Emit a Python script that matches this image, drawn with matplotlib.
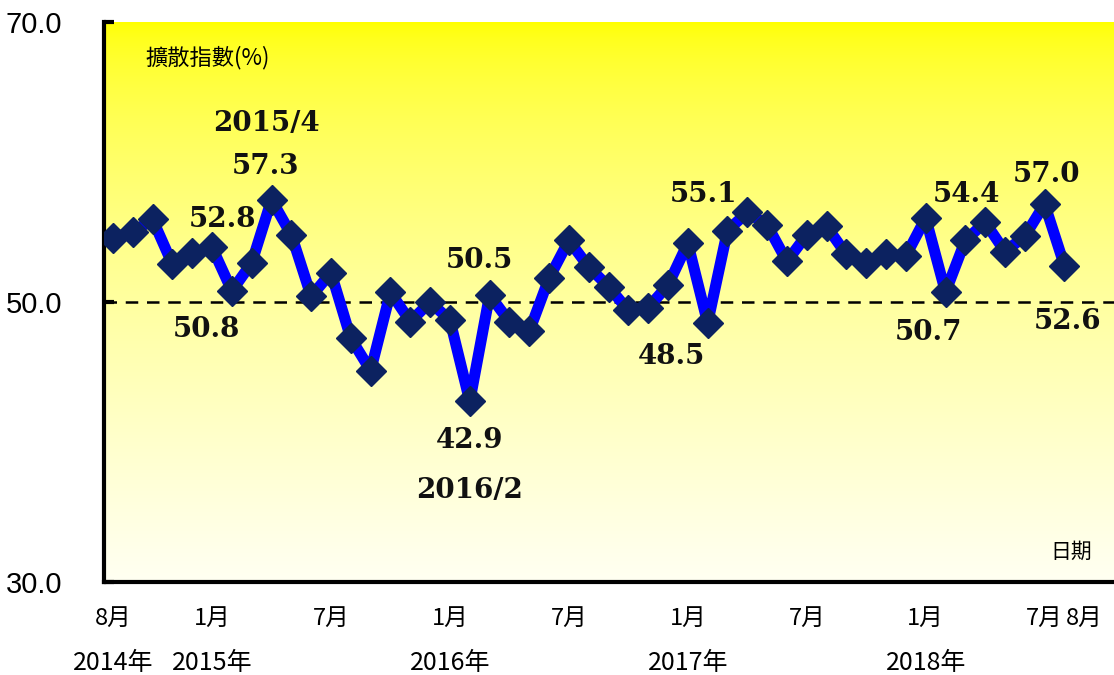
import numpy as np
import matplotlib.pyplot as plt
import matplotlib.transforms as mtransforms

plt.rcParams['font.family'] = ['Noto Sans CJK TC', 'DejaVu Sans']

# Monthly diffusion index, 2014/8 - 2018/8
months = ['2014/8', '2014/9', '2014/10', '2014/11', '2014/12',
          '2015/1', '2015/2', '2015/3', '2015/4', '2015/5', '2015/6',
          '2015/7', '2015/8', '2015/9', '2015/10', '2015/11', '2015/12',
          '2016/1', '2016/2', '2016/3', '2016/4', '2016/5', '2016/6',
          '2016/7', '2016/8', '2016/9', '2016/10', '2016/11', '2016/12',
          '2017/1', '2017/2', '2017/3', '2017/4', '2017/5', '2017/6',
          '2017/7', '2017/8', '2017/9', '2017/10', '2017/11', '2017/12',
          '2018/1', '2018/2', '2018/3', '2018/4', '2018/5', '2018/6',
          '2018/7', '2018/8']
values = [54.6, 55.0, 55.9, 52.7, 53.5,
          53.9, 50.8, 52.8, 57.3, 54.8, 50.4,
          52.1, 47.4, 45.1, 50.7, 48.6, 50.0,
          48.7, 42.9, 50.5, 48.6, 47.9, 51.7,
          54.4, 52.5, 51.1, 49.4, 49.6, 51.2,
          54.2, 48.5, 55.1, 56.4, 55.5, 52.9,
          54.8, 55.4, 53.4, 52.8, 53.4, 53.3,
          56.0, 50.7, 54.4, 55.7, 53.6, 54.7,
          57.0, 52.6]

tick_months = ['2014/8', '2015/1', '2015/7', '2016/1', '2016/7',
               '2017/1', '2017/7', '2018/1', '2018/7', '2018/8']
tick_labels = ['8月', '1月', '7月', '1月', '7月', '1月', '7月', '1月', '7月', '8月']
year_months = ['2014/8', '2015/1', '2016/1', '2017/1', '2018/1']
year_labels = ['2014年', '2015年', '2016年', '2017年', '2018年']

# labelled points and where their value text sits (offset in points)
label_months = ['2015/2', '2015/3', '2015/4', '2016/2', '2016/3',
                '2017/2', '2017/3', '2018/2', '2018/3', '2018/7', '2018/8']
label_offsets = [(-18, -28), (-21, 31), (-4, 24), (0, -28), (-7, 25),
                 (-26, -24), (-17, 26), (-12, -29), (1, 33), (1, 21), (2, -40)]

x = np.arange(len(months))
idx = {m: i for i, m in enumerate(months)}

fig = plt.figure(figsize=(11.14, 6.75), dpi=100)
ax = fig.add_axes([0.0934, 0.1378, 0.9066, 0.8296])

# yellow (top) -> cream (bottom) gradient background
t = np.linspace(0, 1, 256)
grad = np.ones((256, 1, 3))
grad[:, 0, 2] = 0.95 * t ** 0.6
ax.imshow(grad, aspect='auto', extent=[0, 1, 0, 1],
          transform=ax.transAxes, zorder=0)

ax.axhline(50, color='black', lw=1.8, ls=(0, (5, 3.5)), zorder=1)
ax.plot(x, values, color='#0000ff', lw=8, marker='D', ms=15,
        markerfacecolor='#0c2260', markeredgecolor='#0c2260', zorder=3)

for m, off in zip(label_months, label_offsets):
    i = idx[m]
    ax.annotate(f'{values[i]:.1f}', xy=(i, values[i]), xytext=off,
                textcoords='offset points', ha='center', va='center',
                fontsize=20, fontweight='bold', family='DejaVu Serif',
                color='#111111', zorder=4)

# date captions for the peak and trough
ax.annotate('2015/4', xy=(idx['2015/4'], values[idx['2015/4']]), xytext=(-4, 55),
            textcoords='offset points', ha='center', va='center',
            fontsize=20, fontweight='bold', family='DejaVu Serif', color='#111111')
ax.annotate('2016/2', xy=(idx['2016/2'], values[idx['2016/2']]), xytext=(0, -64),
            textcoords='offset points', ha='center', va='center',
            fontsize=20, fontweight='bold', family='DejaVu Serif', color='#111111')

ax.set_xlim(-0.45, 50.5)
ax.set_ylim(30, 70)
ax.set_yticks([30, 50, 70])
ax.set_yticklabels(['30.0', '50.0', '70.0'], family=['Liberation Sans'], fontsize=21)
ax.tick_params(axis='y', direction='in', length=7, width=3, pad=30)

ax.set_xticks([idx[m] for m in tick_months])
ax.set_xticklabels(tick_labels, fontsize=17, fontweight='medium')
ax.tick_params(axis='x', length=0, pad=18)
# last label sits just right of its point
lbls = ax.get_xticklabels()
lbls[-1].set_transform(lbls[-1].get_transform() +
                       mtransforms.ScaledTranslation(14 / 72, 0, fig.dpi_scale_trans))

ytrans = mtransforms.blended_transform_factory(ax.transData, ax.transAxes)
for m, lab in zip(year_months, year_labels):
    ax.text(idx[m], -0.145, lab, transform=ytrans, ha='center', va='center',
            fontsize=18, fontweight='medium')

ax.text(0.041, 0.936, '擴散指數(%)', transform=ax.transAxes, ha='left',
        va='center', fontsize=16)
ax.text(0.978, 0.054, '日期', transform=ax.transAxes, ha='right',
        va='center', fontsize=15)

for s in ['top', 'right']:
    ax.spines[s].set_visible(False)
for s in ['left', 'bottom']:
    ax.spines[s].set_linewidth(3)

fig.savefig('out.png', dpi=100)
